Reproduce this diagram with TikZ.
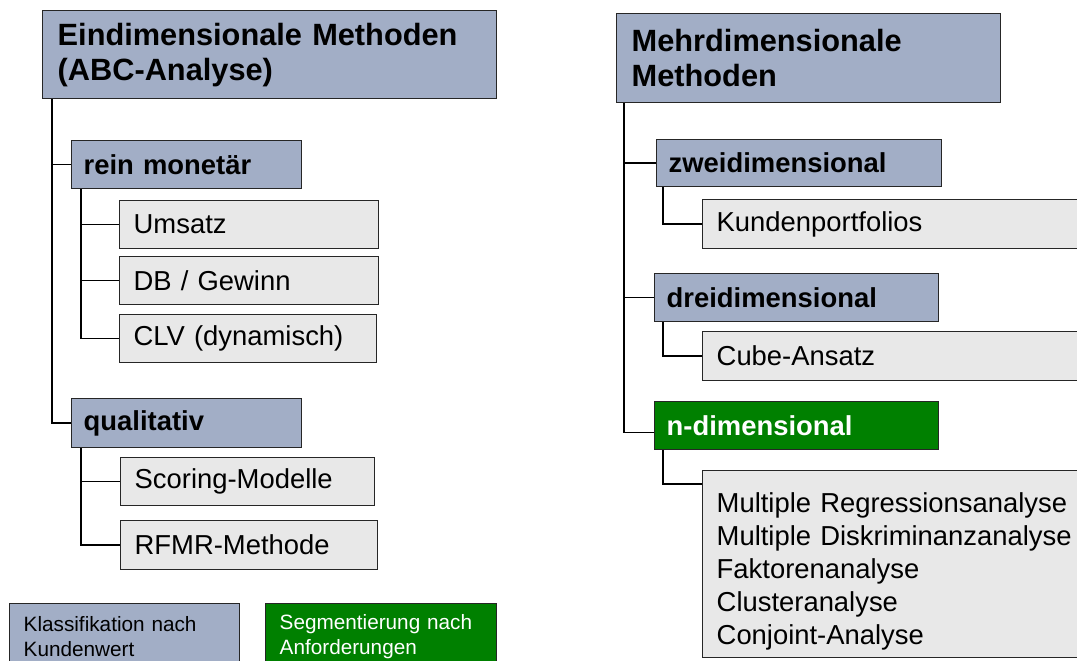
\documentclass[tikz,border=0pt]{standalone}
\usepackage{fontspec}
\setmainfont{Liberation Sans}
\usepackage{tikz}

\definecolor{wertBlau}{RGB}{162,174,198}
\definecolor{itemGrau}{RGB}{232,232,232}
\definecolor{anfGruen}{RGB}{0,128,0}

\begin{document}
\begin{tikzpicture}[x=0.02cm, y=-0.02cm, line width=0.8pt,
    anyBox/.style={draw=black!85, anchor=north west, align=left, inner ysep=0pt},
    headBox/.style={anyBox, fill=wertBlau, inner xsep=0.3cm,
      font=\fontsize{17.5}{20}\selectfont\bfseries},
    subBox/.style={anyBox, fill=wertBlau, inner xsep=0.24cm,
      font=\fontsize{15.6}{18}\selectfont\bfseries},
    greenBox/.style={subBox, fill=anfGruen, text=white},
    itemBox/.style={anyBox, fill=itemGrau, inner xsep=0.28cm,
      font=\fontsize{15.6}{18.8}\selectfont},
    legendBox/.style={anyBox, inner xsep=0.28cm,
      font=\fontsize{11.8}{14.2}\selectfont}]
  \path[use as bounding box, clip] (0,0) rectangle (1077,661);

  % eindimensional
  \node[headBox, text width=8.48cm, minimum height=1.76cm] (eindim) at (42,10)
    {Eindimensionale Methoden\\(ABC-Analyse)};
  \node[subBox, text width=4.12cm, minimum height=0.96cm] (reinMonetaer) at (71,140)
    {rein monetär};
  \node[itemBox, text width=4.62cm, minimum height=0.96cm] (umsatz) at (119,200) {Umsatz};
  \node[itemBox, text width=4.62cm, minimum height=0.96cm] (dbGewinn) at (119,256) {DB / Gewinn};
  \node[itemBox, text width=4.58cm, minimum height=0.96cm] (clv) at (119,314) {CLV (dynamisch)};
  \node[subBox, text width=4.12cm, minimum height=0.98cm] (qualitativ) at (71,398)
    {qualitativ};
  \node[itemBox, text width=4.52cm, minimum height=0.96cm] (scoring) at (120,457) {Scoring-Modelle};
  \node[itemBox, text width=4.58cm, minimum height=0.98cm] (rfmr) at (120,520) {RFMR-Methode};

  \draw ([xshift=0.2cm]eindim.south west) |- (reinMonetaer.west);
  \draw ([xshift=0.2cm]eindim.south west) |- (qualitativ.west);
  \foreach \child in {umsatz, dbGewinn, clv}
    \draw ([xshift=0.2cm]reinMonetaer.south west) |- (\child.west);
  \foreach \child in {scoring, rfmr}
    \draw ([xshift=0.2cm]qualitativ.south west) |- (\child.west);

  % mehrdimensional
  \node[headBox, text width=7.08cm, minimum height=1.78cm] (mehrdim) at (616,13)
    {Mehrdimensionale\\Methoden};
  \node[subBox, text width=5.22cm, minimum height=0.94cm] (zweidim) at (656,139)
    {zweidimensional};
  \node[itemBox, text width=8.44cm, minimum height=0.98cm] (portfolios) at (702,199)
    {Kundenportfolios};
  \node[subBox, text width=5.2cm, minimum height=0.96cm] (dreidim) at (654,273)
    {dreidimensional};
  \node[itemBox, text width=8.44cm, minimum height=0.98cm] (cube) at (702,331)
    {Cube-Ansatz};
  \node[greenBox, text width=5.2cm, minimum height=0.96cm] (ndim) at (654,401)
    {n-dimensional};
  \node[itemBox, text width=8.44cm, minimum height=3.74cm, text height=0.69cm]
    (multivariat) at (702,470)
    {Multiple Regressionsanalyse\\Multiple Diskriminanzanalyse\\Faktorenanalyse\\
     Clusteranalyse\\Conjoint-Analyse};

  \draw ([xshift=0.16cm]mehrdim.south west) |- (zweidim.west);
  \draw ([xshift=0.16cm]mehrdim.south west) |- (dreidim.west);
  \draw ([xshift=0.16cm]mehrdim.south west) |- ([yshift=-0.14cm]ndim.west);
  \draw ([xshift=0.14cm]zweidim.south west) |- (portfolios.west);
  \draw ([xshift=0.18cm]dreidim.south west) |- (cube.west);
  \draw ([xshift=0.18cm]ndim.south west) |- ([yshift=-0.28cm]multivariat.north west);

  % legend
  \node[legendBox, fill=wertBlau, text width=4.04cm, minimum height=1.3cm] (legendWert)
    at (9,603) {Klassifikation nach\\Kundenwert};
  \node[legendBox, fill=anfGruen, text=white, text width=4.06cm, minimum height=1.3cm]
    (legendAnf) at (265,603) {Segmentierung nach\\Anforderungen};
\end{tikzpicture}
\end{document}
